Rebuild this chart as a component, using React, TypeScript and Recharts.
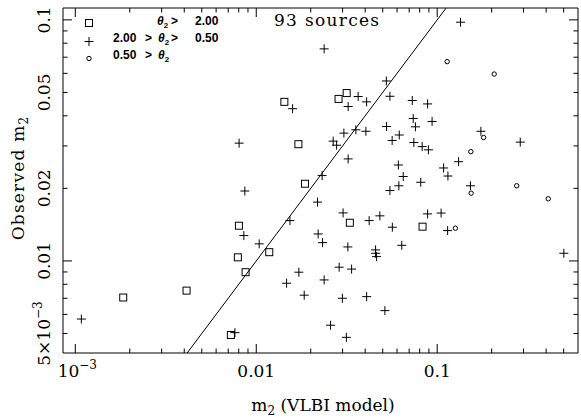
import { ScatterChart, Scatter, XAxis, YAxis, ReferenceLine } from "recharts";

const squareX = [0.00184, 0.00412, 0.00724, 0.00791, 0.00802, 0.00873, 0.0118, 0.0143, 0.0171, 0.0186, 0.0285, 0.0316, 0.0329, 0.083];
const squareY = [0.00705, 0.00753, 0.00493, 0.01035, 0.014, 0.00898, 0.01087, 0.0457, 0.0305, 0.0209, 0.047, 0.0497, 0.0144, 0.01387];

const plusX = [
  0.00108, 0.00762, 0.00804, 0.00865, 0.00854, 0.01038, 0.01471, 0.01535, 0.01588, 0.0172,
  0.01841, 0.02182, 0.02198, 0.02313, 0.02326, 0.02372, 0.02372, 0.02575, 0.02661, 0.0278,
  0.02872, 0.02992, 0.0302, 0.0305, 0.03148, 0.03208, 0.0322, 0.0322, 0.03365, 0.03553,
  0.03656, 0.04036, 0.04074, 0.04074, 0.04207, 0.04566, 0.04566, 0.04624, 0.04822, 0.0514,
  0.05236, 0.0525, 0.0548, 0.0548, 0.05637, 0.0565, 0.061, 0.0614, 0.0617, 0.0637,
  0.0649, 0.0728, 0.0737, 0.0743, 0.0758, 0.0811, 0.0826, 0.0885, 0.0885, 0.0894,
  0.0937, 0.1051, 0.1085, 0.1142, 0.1146, 0.1313, 0.1346, 0.1526, 0.1744, 0.2877, 0.501,
];
const plusY = [
  0.00574, 0.00504, 0.0308, 0.0195, 0.01274, 0.01177, 0.00808, 0.0147, 0.0428, 0.00898,
  0.00721, 0.01754, 0.01294, 0.0226, 0.01191, 0.0758, 0.00834, 0.00541, 0.0314, 0.0302,
  0.00942, 0.007, 0.01582, 0.0339, 0.00482, 0.01143, 0.0437, 0.0265, 0.00925, 0.035,
  0.0481, 0.0345, 0.0457, 0.00711, 0.0147, 0.01111, 0.01076, 0.01042, 0.01538, 0.00622,
  0.0558, 0.0361, 0.0482, 0.0196, 0.0316, 0.0138, 0.025, 0.0205, 0.0333, 0.01161,
  0.0224, 0.0463, 0.039, 0.031, 0.036, 0.0212, 0.0298, 0.0448, 0.01567, 0.0289,
  0.0379, 0.0158, 0.0243, 0.01336, 0.0225, 0.0258, 0.0978, 0.0205, 0.0345, 0.0311, 0.01076,
];

const circleX = [0.1135, 0.2065, 0.1805, 0.1535, 0.154, 0.275, 0.411, 0.126];
const circleY = [0.0671, 0.0596, 0.0325, 0.0284, 0.0191, 0.0205, 0.0181, 0.01367];

// ── Axes ─────────────────────────────────────────────────────────────────────
const X_DOMAIN: [number, number] = [0.000855, 0.6];
const Y_DOMAIN: [number, number] = [0.00415, 0.112];

const xTicks = [
  0.001, 0.002, 0.003, 0.004, 0.005, 0.006, 0.007, 0.008, 0.009,
  0.01, 0.02, 0.03, 0.04, 0.05, 0.06, 0.07, 0.08, 0.09,
  0.1, 0.2, 0.3, 0.4, 0.5,
];
const yTicks = [0.005, 0.006, 0.007, 0.008, 0.009, 0.01, 0.02, 0.03, 0.04, 0.05, 0.06, 0.07, 0.08, 0.09, 0.1];
const xMajor = [0.001, 0.01, 0.1];
const yMajor = [0.01, 0.1];
const xLabels: Record<string, string[]> = { "0.001": ["10", "−3"], "0.01": ["0.01"], "0.1": ["0.1"] };
const yLabels: Record<string, string[]> = {
  "0.005": ["5×10", "−3"], "0.01": ["0.01"], "0.02": ["0.02"], "0.05": ["0.05"], "0.1": ["0.1"],
};

const squares = squareX.map((x, i) => ({ x, y: squareY[i] }));
const pluses = plusX.map((x, i) => ({ x, y: plusY[i] }));
const circles = circleX.map((x, i) => ({ x, y: circleY[i] }));

const SERIF = "'DejaVu Serif', serif";
const SANS = "'Liberation Sans', Arial, sans-serif";
const BIG = 9, SMALL = 4.5;

// ── Tick renderers (ticks point inward, like the original) ───────────────────
function BottomTick({ x, y, payload }: any) {
  const v = payload.value;
  const lab = xLabels[String(v)];
  return (
    <g>
      <line x1={x} x2={x} y1={y} y2={y - (xMajor.includes(v) ? BIG : SMALL)} stroke="#000" />
      {lab && (
        <text x={x + (lab[1] ? 2 : 0)} y={y + 24} textAnchor="middle" fontFamily={SERIF} fontSize={17} fill="#000">
          {lab[0]}
          {lab[1] && <tspan fontSize={12} dy={-8}>{lab[1]}</tspan>}
        </text>
      )}
    </g>
  );
}

function TopTick({ x, y, payload }: any) {
  const v = payload.value;
  return <line x1={x} x2={x} y1={y} y2={y + (xMajor.includes(v) ? BIG : SMALL)} stroke="#000" />;
}

function LeftTick({ x, y, payload }: any) {
  const v = payload.value;
  const lab = yLabels[String(v)];
  const tx = x - 12.5;
  return (
    <g>
      <line x1={x} x2={x + (yMajor.includes(v) ? BIG : SMALL)} y1={y} y2={y} stroke="#000" />
      {lab && (
        <text x={tx} y={y} transform={`rotate(-90 ${tx} ${y})`} textAnchor="middle" fontFamily={SERIF} fontSize={17} fill="#000">
          {lab[0]}
          {lab[1] && <tspan fontSize={12} dy={-8}>{lab[1]}</tspan>}
        </text>
      )}
    </g>
  );
}

function RightTick({ x, y, payload }: any) {
  const v = payload.value;
  return <line x1={x} x2={x - (yMajor.includes(v) ? BIG : SMALL)} y1={y} y2={y} stroke="#000" />;
}

// ── Marker shapes ────────────────────────────────────────────────────────────
const SquareMark = ({ cx, cy }: any) => (
  <rect x={cx - 3.5} y={cy - 3.5} width={7} height={7} fill="none" stroke="#000" />
);
const PlusMark = ({ cx, cy }: any) => (
  <g stroke="#000">
    <line x1={cx - 4.5} x2={cx + 4.5} y1={cy} y2={cy} />
    <line x1={cx} x2={cx} y1={cy - 4.5} y2={cy + 4.5} />
  </g>
);
const CircleMark = ({ cx, cy }: any) => <circle cx={cx} cy={cy} r={2.2} fill="none" stroke="#000" />;
const NoMark = () => <g />;

function Theta({ x, y }: { x: number; y: number }) {
  return (
    <text x={x} y={y} fontFamily={SANS} fontWeight={700} fontSize={12} fill="#000">
      <tspan fontStyle="italic">θ</tspan>
      <tspan fontSize={8} dy={3}>2</tspan>
    </text>
  );
}

function Legend() {
  const t = { fontFamily: SANS, fontWeight: 700, fontSize: 12, fill: "#000" } as const;
  return (
    <svg width={581} height={419} style={{ position: "absolute", left: 0, top: 0, pointerEvents: "none" }}>
      <rect x={85.5} y={19.5} width={7} height={7} fill="none" stroke="#000" />
      <line x1={84.5} x2={93.5} y1={41.5} y2={41.5} stroke="#000" />
      <line x1={89} x2={89} y1={37} y2={46} stroke="#000" />
      <circle cx={89} cy={58.5} r={2.2} fill="none" stroke="#000" />

      <Theta x={157} y={25} />
      <text x={171} y={25} {...t}>&gt;</text>
      <text x={195} y={25} {...t}>2.00</text>

      <text x={113} y={42} {...t}>2.00</text>
      <text x={145} y={42} {...t}>&gt;</text>
      <Theta x={158} y={42} />
      <text x={171} y={42} {...t}>&gt;</text>
      <text x={195} y={42} {...t}>0.50</text>

      <text x={113} y={59} {...t}>0.50</text>
      <text x={145} y={59} {...t}>&gt;</text>
      <Theta x={158} y={59} />

      <text x={274} y={25.5} fontFamily={SERIF} fontSize={17} letterSpacing={1.3} fill="#000">93 sources</text>

      <text x={323} y={411} textAnchor="middle" fontFamily={SERIF} fontSize={17} fill="#000">
        m<tspan fontSize={12} dy={4}>2</tspan><tspan dy={-4}> (VLBI model)</tspan>
      </text>
      <text x={24} y={178} transform="rotate(-90 24 178)" textAnchor="middle" fontFamily={SERIF} fontSize={17} letterSpacing={1.2} fill="#000">
        Observed m<tspan fontSize={12} dy={4}>2</tspan>
      </text>
    </svg>
  );
}

export default function App() {
  return (
    <div style={{ position: "absolute", left: 0, top: 0, width: 581, height: 419, background: "#fff" }}>
      <ScatterChart width={581} height={419} margin={{ top: 7, right: 2, bottom: 26, left: 0 }}>
        <XAxis
          type="number" dataKey="x" scale="log" domain={X_DOMAIN} allowDataOverflow
          ticks={xTicks} interval={0} height={40} tickSize={0} tickMargin={0}
          tickLine={false} axisLine={{ stroke: "#000" }} tick={<BottomTick />}
        />
        <XAxis
          xAxisId="top" orientation="top" type="number" dataKey="x" scale="log" domain={X_DOMAIN} allowDataOverflow
          ticks={xTicks} interval={0} height={1} tickSize={0} tickMargin={0}
          tickLine={false} axisLine={{ stroke: "#000" }} tick={<TopTick />}
        />
        <YAxis
          type="number" dataKey="y" scale="log" domain={Y_DOMAIN} allowDataOverflow
          ticks={yTicks} interval={0} width={63} tickSize={0} tickMargin={0}
          tickLine={false} axisLine={{ stroke: "#000" }} tick={<LeftTick />}
        />
        <YAxis
          yAxisId="right" orientation="right" type="number" dataKey="y" scale="log" domain={Y_DOMAIN} allowDataOverflow
          ticks={yTicks} interval={0} width={1} tickSize={0} tickMargin={0}
          tickLine={false} axisLine={{ stroke: "#000" }} tick={<RightTick />}
        />
        <ReferenceLine
          segment={[{ x: Y_DOMAIN[0], y: Y_DOMAIN[0] }, { x: Y_DOMAIN[1], y: Y_DOMAIN[1] }]}
          stroke="#000" strokeWidth={1}
        />
        {/* binds the mirrored top/right frame axes so they get drawn */}
        <Scatter xAxisId="top" yAxisId="right" data={circles} shape={NoMark} isAnimationActive={false} />
        <Scatter data={squares} shape={SquareMark} isAnimationActive={false} />
        <Scatter data={pluses} shape={PlusMark} isAnimationActive={false} />
        <Scatter data={circles} shape={CircleMark} isAnimationActive={false} />
      </ScatterChart>
      <Legend />
    </div>
  );
}
